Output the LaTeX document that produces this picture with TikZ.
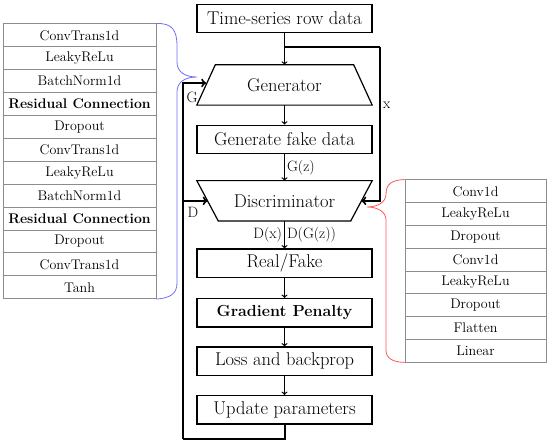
\documentclass[tikz,border=0pt]{standalone}
\usetikzlibrary{positioning,arrows}
\definecolor{braceblue}{RGB}{110,110,250}
\definecolor{bracered}{RGB}{250,90,90}
\tikzstyle{block} = [rectangle, draw=black, line width=1.2pt, minimum width=175pt, minimum height=28.5pt, inner sep=0pt, text centered, font=\fontsize{18.5}{21}\selectfont]
\tikzstyle{trap} = [rectangle, draw=none, minimum width=175pt, minimum height=40pt, inner sep=0pt, font=\fontsize{18.5}{21}\selectfont]
\tikzstyle{arrow} = [line width=1.2pt,->]
\tikzstyle{loop} = [line width=2pt]
\tikzset{layer/.style={rectangle, draw=black!45, line width=0.8pt, minimum height=22.9pt, inner sep=0pt, font=\fontsize{14}{16}\selectfont},
  lbl/.style={draw=none, inner sep=2pt, font=\fontsize{15}{17}\selectfont},
  edge/.style={draw=black, line width=1.2pt, line join=miter}}

\begin{document}
\begin{tikzpicture}[x=1pt,y=-1pt]
    \useasboundingbox (0,0) rectangle (550,444);

    % main column
    \node [block] (rowdata) at (284.5,18.5) {Time-series row data};
    \node [trap, below=31.4pt of rowdata] (gen) {Generator};
    \node [block, below=19.4pt of gen] (fake) {Generate fake data};
    \node [trap, below=26.4pt of fake] (disc) {Discriminator};
    \node [block, below=27.4pt of disc] (realfake) {Real/Fake};
    \node [block, below=19.8pt of realfake, font=\fontsize{16}{19}\selectfont\bfseries] (penalty) {Gradient Penalty};
    \node [block, below=18.8pt of penalty] (loss) {Loss and backprop};
    \node [block, below=18.8pt of loss] (update) {Update parameters};

    % trapezoid outlines
    \draw[edge] (gen.south west) -- ([xshift=18.5pt]gen.north west) -- ([xshift=-18.5pt]gen.north east) -- (gen.south east) -- cycle;
    \draw[edge] (disc.north west) -- ([xshift=21.5pt]disc.south west) -- ([xshift=-21.5pt]disc.south east) -- (disc.north east) -- cycle;

    % generator layers
    \foreach \lname [count=\i] in {ConvTrans1d, LeakyReLu, BatchNorm1d, {\textbf{Residual Connection}}, Dropout, ConvTrans1d, LeakyReLu, BatchNorm1d, {\textbf{Residual Connection}}, Dropout, ConvTrans1d, Tanh}
        \node [layer, minimum width=153pt] (gl\i) at (79.5, 12.45+\i*22.9) {\lname};

    % discriminator layers
    \foreach \lname [count=\i] in {Conv1d, LeakyReLu, Dropout, Conv1d, LeakyReLu, Dropout, Flatten, Linear}
        \node [layer, minimum width=141pt] (dl\i) at (475.5, 168.6+\i*22.75) {\lname};

    \draw[arrow] (rowdata) -- (gen);
    \draw[arrow] (gen) -- (fake);
    \draw[arrow] (fake) -- node[lbl, right] (gz) {G(z)} (disc);
    \draw[arrow] (disc) -- node[lbl, left] (dx) {D(x)} node[lbl, right] (dgz) {D(G(z))} (realfake);
    \draw[arrow] (realfake) -- (penalty);
    \draw[arrow] (penalty) -- (loss);
    \draw[arrow] (loss) -- (update);

    % real data path
    \coordinate (xsplit) at (284.5,47);
    \coordinate (xright) at (380,47);
    \draw[loop] (xsplit) -- (xright);
    \draw[loop,->] (xright) |- node[lbl, pos=0.19, right] (xlbl) {x} ([xshift=-10.75pt]disc.east);

    % feedback path
    \coordinate (fb) at (183,439);
    \draw[loop] (update.south) |- (fb);
    \draw[loop,->] (fb) |- ([xshift=9.25pt,yshift=2pt]gen.west);
    \draw[loop,->] (fb |- disc.west) -- ([xshift=10.75pt]disc.west);
    \node [lbl] (glbl) at (192,97) {G};
    \node [lbl] (dlbl) at (193,212) {D};

    % braces
    \coordinate (gtip) at (197,77);
    \coordinate (dtip) at (367,207);
    \draw[braceblue, line width=0.8pt] (gl1.north east) .. controls (172,23) and (177,30) .. (177,46) -- (177,62) .. controls (177,72) and (185,77) .. (gtip) .. controls (185,77) and (177,82) .. (177,92) -- (177,283) .. controls (177,294) and (170,298) .. (gl12.south east);
    \draw[bracered, line width=0.8pt] (dl1.north west) .. controls (392,180) and (386,184) .. (386,194) .. controls (386,202) and (378,207) .. (dtip) .. controls (378,207) and (386,212) .. (386,220) -- (386,350) .. controls (386,358) and (392,362) .. (dl8.south west);
\end{tikzpicture}
\end{document}
